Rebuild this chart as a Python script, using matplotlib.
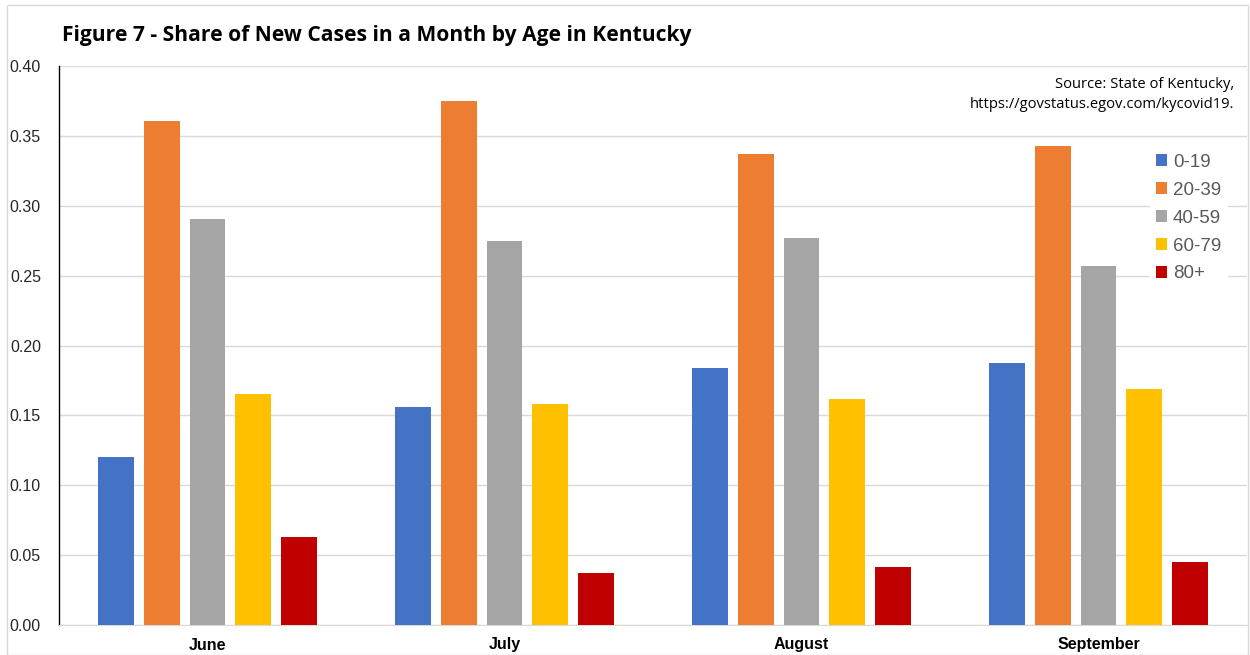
import numpy as np
import matplotlib
matplotlib.use('Agg')
import matplotlib.pyplot as plt
from matplotlib.patches import Rectangle

# Data
months = ["June", "July", "August", "September"]
age_groups = ["0-19", "20-39", "40-59", "60-79", "80+"]
share_0_19 = [0.120, 0.156, 0.184, 0.1875]
share_20_39 = [0.361, 0.375, 0.337, 0.343]
share_40_59 = [0.2905, 0.275, 0.277, 0.257]
share_60_79 = [0.165, 0.158, 0.162, 0.169]
share_80_plus = [0.063, 0.037, 0.0415, 0.045]
y_ticks = [0.00, 0.05, 0.10, 0.15, 0.20, 0.25, 0.30, 0.35, 0.40]

series = [share_0_19, share_20_39, share_40_59, share_60_79, share_80_plus]
colors = ["#4472C4", "#ED7D31", "#A5A5A5", "#FFC000", "#C00000"]

fig = plt.figure(figsize=(12.5, 6.55), dpi=100)
ax = fig.add_axes([59 / 1250, 1 - 625 / 655, (1247 - 59) / 1250, (625 - 66) / 655])

# outer chart border
fig.patches.append(Rectangle((7 / 1250, 0), 1241 / 1250, 650 / 655, transform=fig.transFigure,
                             fill=False, edgecolor="#d9d9d9", linewidth=1))

x = np.arange(len(months))
slot = 0.1535
width = 0.121
for i, (vals, name) in enumerate(zip(series, age_groups)):
    ax.bar(x + (i - 2) * slot, vals, width, color=colors[i], label=name, zorder=3)

ax.set_xlim(-0.5, len(months) - 0.5)
ax.set_ylim(0, 0.40)
ax.set_yticks(y_ticks)
ax.set_yticklabels([f"{v:.2f}" for v in y_ticks], fontsize=11.5, color="#262626",
                   family="Liberation Sans")
ax.set_xticks(x)
ax.set_xticklabels(months, fontsize=11.5, fontweight="bold", family="Liberation Sans")
ax.tick_params(axis="both", length=0)
ax.tick_params(axis="y", pad=13)
ax.tick_params(axis="x", pad=9)

ax.grid(axis="y", color="#d9d9d9", linewidth=1, zorder=0)
for s in ["top", "right"]:
    ax.spines[s].set_visible(False)
ax.spines["left"].set_color("black")
ax.spines["left"].set_linewidth(1)
ax.spines["bottom"].set_color("#d9d9d9")

fig.text(62 / 1250, 1 - 35 / 655, "Figure 7 - Share of New Cases in a Month by Age in Kentucky",
         fontsize=15.1, fontweight="bold", family="Open Sans", va="center", ha="left")

fig.text(1234 / 1250, 1 - 84 / 655, "Source: State of Kentucky,", fontsize=10.6,
         family="Open Sans", ha="right", va="center")
fig.text(1234 / 1250, 1 - 104 / 655, "https://govstatus.egov.com/kycovid19.", fontsize=10.6,
         family="Open Sans", ha="right", va="center")

leg = ax.legend(loc="upper left", bbox_to_anchor=(1141 / 1250, 1 - 139 / 655),
                bbox_transform=fig.transFigure, frameon=True, fancybox=False,
                edgecolor="white", facecolor="white", framealpha=1,
                prop={"family": "Liberation Sans", "size": 13.5},
                handlelength=0.6, handleheight=0.6, handletextpad=0.3,
                labelspacing=0.58, borderpad=0.3)
for t in leg.get_texts():
    t.set_color("#595959")

fig.savefig("out.png", dpi=100)
